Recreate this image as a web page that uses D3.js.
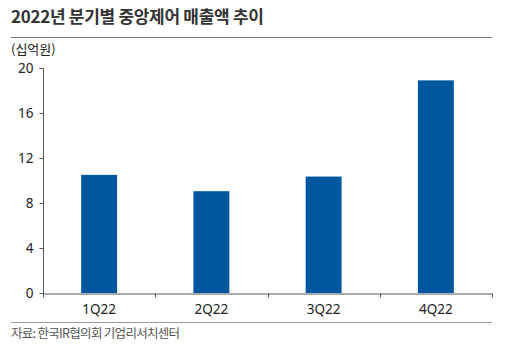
<!DOCTYPE html>
<html><head><meta charset="utf-8">
<script src="https://cdn.jsdelivr.net/npm/d3@7"></script>
<style>body{margin:0;background:#fff}svg{display:block}</style>
</head><body>
<script>
const categories = ["1Q22","2Q22","3Q22","4Q22"];
const values = [10.5, 9.05, 10.35, 18.9];
const yTicks = [0,4,8,12,16,20];
const title = "2022년 분기별 중앙제어 매출액 추이";
const unit = "(십억원)";
const source = "자료: 한국IR협의회 기업리서치센터";

const W=509,H=353;
const svg=d3.select("body").append("svg").attr("width",W).attr("height",H);
const font="'Noto Sans CJK KR','Noto Sans',sans-serif";
const numFont="'Noto Sans','Open Sans',sans-serif";
svg.append("text").attr("x",11).attr("y",23).text(title)
  .attr("font-family",font).attr("font-size",17).attr("font-weight",700).attr("fill","#333").attr("letter-spacing",-0.3);
svg.append("line").attr("x1",11).attr("x2",492).attr("y1",37.5).attr("y2",37.5).attr("stroke","#777").attr("stroke-width",1);
svg.append("text").attr("x",11).attr("y",54).text(unit)
  .attr("font-family",font).attr("font-size",13).attr("fill","#222");
svg.append("line").attr("x1",11).attr("x2",492).attr("y1",322.5).attr("y2",322.5).attr("stroke","#999").attr("stroke-width",1);
svg.append("text").attr("x",11).attr("y",338).text(source)
  .attr("font-family",font).attr("font-size",12.5).attr("fill","#555").attr("letter-spacing",-0.7);

const x=d3.scaleBand().domain(categories).range([43,492]).paddingInner(0.68).paddingOuter(0.34);
const y=d3.scaleLinear().domain([0,20]).range([293,68]);

svg.selectAll("rect.bar").data(values).enter().append("rect").attr("class","bar")
  .attr("x",(d,i)=>x(categories[i])).attr("width",x.bandwidth())
  .attr("y",d=>y(d)).attr("height",d=>y(0)-y(d)).attr("fill","#00579e");

const ya=svg.append("g").attr("transform","translate(43.5,0)")
  .call(d3.axisLeft(y).tickValues(yTicks).tickSize(4).tickPadding(6));
ya.select(".domain").attr("stroke","#555").attr("d","M-4,68.5H0V293.5");
ya.selectAll(".tick line").attr("stroke","#555");
ya.selectAll("text").attr("font-family",numFont).attr("font-size",13.5).attr("fill","#222");

const xb=d3.scaleBand().domain(categories).range([43,492]);
const xa=svg.append("g").attr("transform","translate(0,293.5)")
  .call(d3.axisBottom(xb).tickSize(0).tickPadding(11));
xa.select(".domain").attr("stroke","#555");
xa.selectAll("text").attr("font-family",numFont).attr("font-size",13.5).attr("fill","#222");
const edges=categories.map(c=>xb(c)).concat([492]);
xa.selectAll("line.edge").data(edges).enter().append("line").attr("class","edge")
  .attr("x1",d=>Math.round(d)+0.5).attr("x2",d=>Math.round(d)+0.5).attr("y1",0).attr("y2",4).attr("stroke","#555");
</script>
</body></html>
